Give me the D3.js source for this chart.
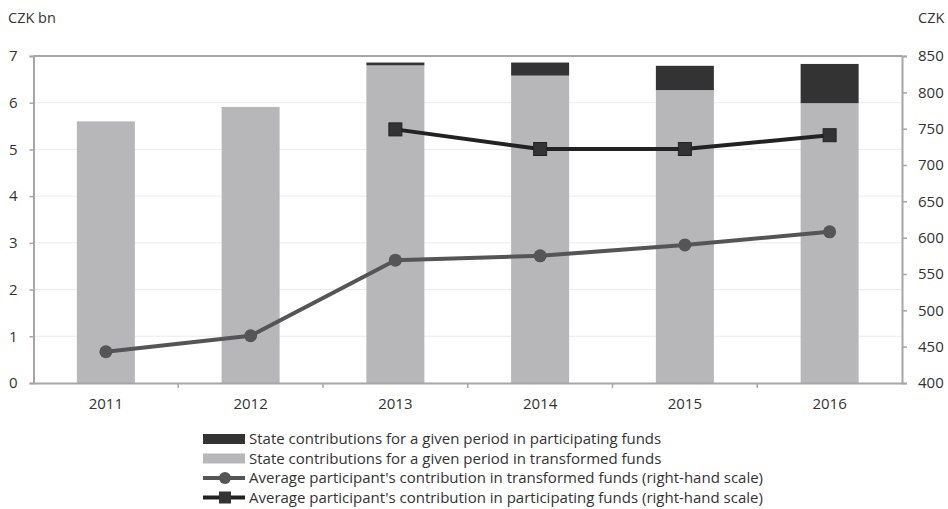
<!DOCTYPE html>
<html><head><meta charset="utf-8">
<script src="https://cdn.jsdelivr.net/npm/d3@7"></script>
<style>body{margin:0;background:#fff}svg{display:block}text{font-family:"Open Sans",sans-serif;fill:#333}</style>
</head><body><svg id="c" width="948" height="509"></svg>
<script>
const years = ["2011","2012","2013","2014","2015","2016"];
const transformedBars = [5.60, 5.91, 6.80, 6.58, 6.27, 5.99];
const participatingBars = [0, 0, 0.06, 0.28, 0.52, 0.84];
const avgTransformed = [443, 465, 569, 575, 590, 608];
const avgParticipating = [null, null, 749, 722, 722, 741];
const leftTicks = [0,1,2,3,4,5,6,7];
const rightTicks = [400,450,500,550,600,650,700,750,800,850];
const legendLabels = [
  "State contributions for a given period in participating funds",
  "State contributions for a given period in transformed funds",
  "Average participant's contribution in transformed funds (right-hand scale)",
  "Average participant's contribution in participating funds (right-hand scale)"
];

const svg = d3.select("#c");
const L = 33.5, R = 902, T = 56, B = 383;
const xb = d3.scaleBand().domain(years).range([L, R]);
const yL = d3.scaleLinear().domain([0, 7]).range([B, T]);
const yR = d3.scaleLinear().domain([400, 850]).range([B, T]);
const cGray = "#b7b7b9", cDark = "#333333", cAxis = "#a6a6a6";
const FS = 15;

// gridlines
svg.append("g").selectAll("line").data(leftTicks.slice(1, -1)).join("line")
  .attr("x1", L).attr("x2", R).attr("y1", d => yL(d)).attr("y2", d => yL(d))
  .attr("stroke", "#ececec").attr("stroke-width", 1);
// top border
svg.append("line").attr("x1", L).attr("x2", R).attr("y1", T).attr("y2", T)
  .attr("stroke", cAxis).attr("stroke-width", 2);

// bars
const bw = 58;
const g = svg.append("g");
years.forEach((yr, i) => {
  const cx = xb(yr) + xb.bandwidth() / 2;
  g.append("rect").attr("x", cx - bw / 2).attr("width", bw)
    .attr("y", yL(transformedBars[i])).attr("height", yL(0) - yL(transformedBars[i]))
    .attr("fill", cGray);
  if (participatingBars[i] > 0) {
    const top = transformedBars[i] + participatingBars[i];
    g.append("rect").attr("x", cx - bw / 2).attr("width", bw)
      .attr("y", yL(top)).attr("height", yL(transformedBars[i]) - yL(top))
      .attr("fill", cDark);
  }
});

// axes
const axL = svg.append("g").attr("transform", `translate(${L},0)`)
  .call(d3.axisLeft(yL).tickValues(leftTicks).tickFormat(d3.format("d")).tickSize(4).tickPadding(12));
const axR = svg.append("g").attr("transform", `translate(${R},0)`)
  .call(d3.axisRight(yR).tickValues(rightTicks).tickFormat(d3.format("d")).tickSize(5).tickPadding(11));
const axB = svg.append("g").attr("transform", `translate(0,${B})`)
  .call(d3.axisBottom(xb).tickSize(0).tickPadding(15));
[axL, axR, axB].forEach(a => {
  a.selectAll(".domain").attr("stroke", cAxis).attr("stroke-width", 2);
  a.selectAll(".tick line").attr("stroke", cAxis).attr("stroke-width", 1.5);
  a.selectAll("text").attr("font-size", FS).attr("font-family", "Open Sans").attr("fill", "#333");
});
// category boundary ticks
svg.append("g").selectAll("line").data(years.slice(1)).join("line")
  .attr("x1", d => xb(d)).attr("x2", d => xb(d)).attr("y1", B).attr("y2", B + 5)
  .attr("stroke", cAxis).attr("stroke-width", 1.5);

// lines
const cx = d => xb(d) + xb.bandwidth() / 2;
const lineT = d3.line().x((d, i) => cx(years[i])).y(d => yR(d));
svg.append("path").attr("d", lineT(avgTransformed)).attr("fill", "none")
  .attr("stroke", "#555555").attr("stroke-width", 4).attr("stroke-linejoin", "round");
svg.append("g").selectAll("circle").data(avgTransformed).join("circle")
  .attr("cx", (d, i) => cx(years[i])).attr("cy", d => yR(d)).attr("r", 6.5)
  .attr("fill", "#555555");
const pData = avgParticipating.map((v, i) => ({ yr: years[i], v })).filter(d => d.v != null);
const lineP = d3.line().x(d => cx(d.yr)).y(d => yR(d.v));
svg.append("path").attr("d", lineP(pData)).attr("fill", "none")
  .attr("stroke", "#222222").attr("stroke-width", 4).attr("stroke-linejoin", "round");
svg.append("g").selectAll("rect").data(pData).join("rect")
  .attr("x", d => cx(d.yr) - 6.5).attr("y", d => yR(d.v) - 6.5)
  .attr("width", 13).attr("height", 13).attr("fill", "#333333").attr("stroke", "#222").attr("stroke-width", 1);

// units
svg.append("text").attr("x", 8).attr("y", 23).attr("font-size", 14.5).text("CZK bn");
svg.append("text").attr("x", 918).attr("y", 23).attr("font-size", 14.5).text("CZK");

// legend
const lx = 203, ly = [439, 458.5, 478, 497.5];
const lg = svg.append("g");
lg.append("rect").attr("x", lx).attr("y", ly[0] - 5).attr("width", 42).attr("height", 10).attr("fill", cDark);
lg.append("rect").attr("x", lx).attr("y", ly[1] - 5).attr("width", 42).attr("height", 10).attr("fill", cGray);
lg.append("line").attr("x1", lx).attr("x2", lx + 42).attr("y1", ly[2]).attr("y2", ly[2]).attr("stroke", "#555").attr("stroke-width", 4);
lg.append("circle").attr("cx", lx + 22).attr("cy", ly[2]).attr("r", 6).attr("fill", "#555");
lg.append("line").attr("x1", lx).attr("x2", lx + 42).attr("y1", ly[3]).attr("y2", ly[3]).attr("stroke", "#222").attr("stroke-width", 4);
lg.append("rect").attr("x", lx + 16).attr("y", ly[3] - 6).attr("width", 12).attr("height", 12).attr("fill", "#333");
lg.selectAll("text.l").data(legendLabels).join("text").attr("class", "l")
  .attr("x", lx + 46).attr("y", (d, i) => ly[i]).attr("dy", "0.35em")
  .attr("font-family", "Lato").attr("font-size", 15).text(d => d);
</script></body></html>
